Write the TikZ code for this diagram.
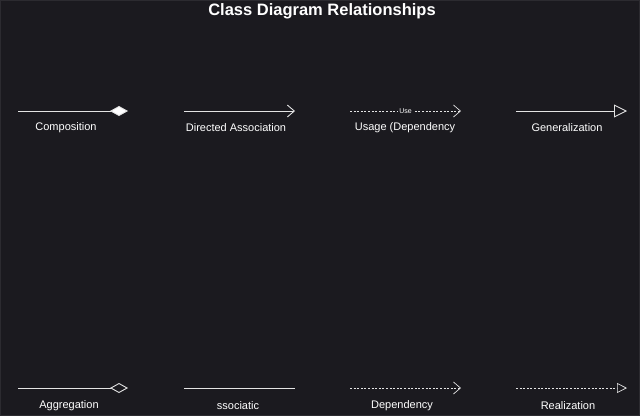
\documentclass[tikz,border=0pt]{standalone}
\usepackage{fontspec}
\setmainfont{Liberation Sans}
\usetikzlibrary{arrows.meta, positioning}
\definecolor{bgdark}{HTML}{1B1A1F}
\definecolor{edgegray}{HTML}{2C2B30}
\definecolor{linegray}{HTML}{E4E4E4}
\tikzset{
  every node/.style={font=\fontsize{11}{13}\selectfont, text=white},
  rel/.style={draw=linegray, line width=0.9pt},
  dep/.style={rel, dash pattern=on 2pt off 1.6pt, line width=0.7pt},
  lbl/.style={inner sep=0pt, anchor=center},
  comp/.style={-{Diamond[length=18pt,width=10pt,fill=white]}},
  aggr/.style={-{Diamond[length=18pt,width=10pt,fill=bgdark]}},
  barb/.style={-{Straight Barb[length=7pt,width=12pt]}},
  gen/.style={-{Triangle[length=13pt,width=13pt,fill=bgdark]}},
  real/.style={-{Triangle[length=10pt,width=10pt,fill=bgdark]}},
}
\begin{document}
\begin{tikzpicture}[x=1pt, y=-1pt]
  % background
  \fill[bgdark] (0,0) rectangle (640,416);
  \draw[edgegray, line width=0.8pt] (0.4,0.4) rectangle (639.6,415.6);
  \useasboundingbox (0,0) rectangle (640,416);

  \node[font=\bfseries\fontsize{16.5}{18}\selectfont] (title) at (322,11) {Class Diagram Relationships};

  % top row
  \coordinate (compA) at (18,111);   \coordinate (compB) at (128,111);
  \coordinate (dasA)  at (184,111);  \coordinate (dasB)  at (295,111);
  \coordinate (useA)  at (350,111);  \coordinate (useB)  at (461,111);
  \coordinate (genA)  at (516,111);  \coordinate (genB)  at (627,111);
  % bottom row
  \coordinate (aggA)  at (18,388);   \coordinate (aggB)  at (128,388);
  \coordinate (assA)  at (184,388);  \coordinate (assB)  at (295,388);
  \coordinate (depA)  at (350,388);  \coordinate (depB)  at (461,388);
  \coordinate (reaA)  at (516,388);  \coordinate (reaB)  at (627,388);

  % labels
  \node[lbl] (comp) at (66,128)  {Composition};
  \node[lbl] (das)  at (236,128) {Directed Association};
  \node[lbl] (use)  at (405,128) {Usage (Dependency};
  \node[lbl] (gen)  at (567,128) {Generalization};
  \node[lbl] (agg)  at (69,406)  {Aggregation};
  \node[lbl] (ass)  at (238,406) {ssociatic};
  \node[lbl] (dep)  at (402,406) {Dependency};
  \node[lbl] (rea)  at (568,406) {Realization};

  % connectors
  \draw[rel, comp] (compA) -- (compB);
  \draw[rel, barb] (dasA) -- (dasB);
  \draw[dep, barb] (useA) -- node[fill=bgdark, inner sep=1pt, font=\fontsize{7}{8}\selectfont] (uselbl) {Use} (useB);
  \draw[rel, gen] (genA) -- (genB);
  \draw[rel, aggr] (aggA) -- (aggB);
  \draw[rel] (assA) -- (assB);
  \draw[dep, barb] (depA) -- (depB);
  \draw[dep, real] (reaA) -- (reaB);
\end{tikzpicture}
\end{document}
